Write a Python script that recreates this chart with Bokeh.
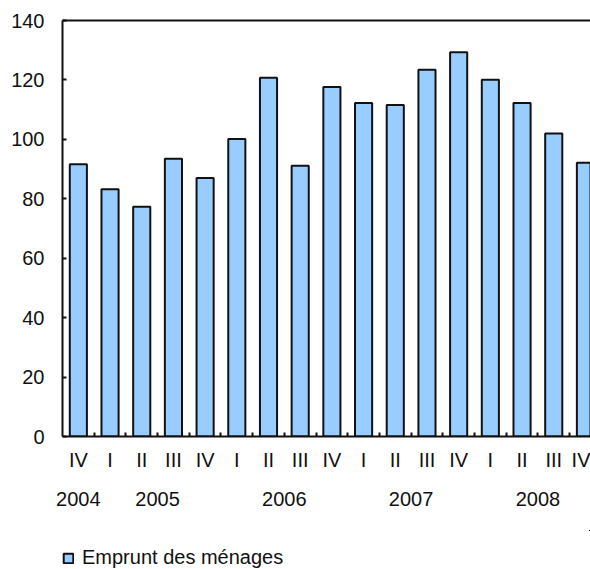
from bokeh.plotting import figure
from bokeh.layouts import column
from bokeh.models import (ColumnDataSource, FixedTicker, LinearAxis, Range1d,
                          Legend, LegendItem)
from bokeh.embed import file_html
from bokeh.resources import INLINE

quarters = ["IV", "I", "II", "III", "IV", "I", "II", "III", "IV",
            "I", "II", "III", "IV", "I", "II", "III", "IV"]
years = [2004, 2005, 2005, 2005, 2005, 2006, 2006, 2006, 2006,
         2007, 2007, 2007, 2007, 2008, 2008, 2008, 2008]
values = [91.6, 83.2, 77.3, 93.5, 87.0, 100.1, 120.7, 91.1, 117.6,
          112.2, 111.6, 123.4, 129.3, 120.1, 112.2, 102.0, 92.1]
y_ticks = [0, 20, 40, 60, 80, 100, 120, 140]
series_name = "Emprunt des ménages"

FONT = "Liberation Sans"
FS = "20px"
TXT = "#111111"
BAR_FILL = "#99CCFF"
LINE = "#111111"

idx = list(range(len(values)))
src = ColumnDataSource(dict(x=idx, top=values, q=quarters))

p = figure(width=590, height=530, output_backend="svg", toolbar_location=None,
           x_range=Range1d(-0.5, 16.16), y_range=Range1d(0, 140),
           x_axis_type=None, y_axis_type=None,
           min_border_left=62, min_border_right=0, min_border_top=20,
           min_border_bottom=94)
p.grid.visible = False
p.outline_line_color = None
p.background_fill_color = "white"
p.border_fill_color = "white"

r = p.vbar(x="x", top="top", width=0.54, bottom=0, source=src,
           fill_color=BAR_FILL, line_color=LINE, line_width=2)

# y axis
yax = LinearAxis(ticker=FixedTicker(ticks=y_ticks))
yax.axis_line_width = 2
yax.axis_line_color = LINE
yax.major_tick_in = 4
yax.major_tick_out = 0
yax.major_tick_line_width = 2
yax.major_tick_line_color = LINE
yax.minor_tick_line_color = None
yax.major_label_standoff = 18
yax.major_label_text_font = FONT
yax.major_label_text_font_size = FS
yax.major_label_text_color = TXT
p.add_layout(yax, "left")

# top line
tax = LinearAxis(ticker=FixedTicker(ticks=[]))
tax.axis_line_width = 2
tax.axis_line_color = LINE
tax.major_tick_line_color = None
tax.minor_tick_line_color = None
tax.major_label_text_font_size = "0px"
p.add_layout(tax, "above")

# quarter axis
xax = LinearAxis(ticker=FixedTicker(ticks=idx, minor_ticks=[i + 0.5 for i in idx]))
xax.major_label_overrides = {i: q for i, q in zip(idx, quarters)}
xax.axis_line_width = 2
xax.axis_line_color = LINE
xax.major_tick_line_color = None
xax.major_tick_in = 0
xax.major_tick_out = 0
xax.minor_tick_in = 4
xax.minor_tick_out = 0
xax.minor_tick_line_width = 2
xax.minor_tick_line_color = LINE
xax.major_label_standoff = 12
xax.major_label_text_font = FONT
xax.major_label_text_font_size = FS
xax.major_label_text_color = TXT
p.add_layout(xax, "below")

# year axis
uniq_years = sorted(set(years))
year_pos = []
for yr in uniq_years:
    ii = [i for i, y in enumerate(years) if y == yr]
    year_pos.append(sum(ii) / len(ii))
yrax = LinearAxis(ticker=FixedTicker(ticks=year_pos))
yrax.major_label_overrides = {pos: str(yr) for pos, yr in zip(year_pos, uniq_years)}
yrax.axis_line_color = None
yrax.major_tick_line_color = None
yrax.minor_tick_line_color = None
yrax.major_tick_in = 0
yrax.major_tick_out = 0
yrax.major_label_standoff = 18
yrax.major_label_text_font = FONT
yrax.major_label_text_font_size = FS
yrax.major_label_text_color = TXT
p.add_layout(yrax, "below")

# legend strip (frame aligned with main chart by the column layout);
# its key renderer shares the series data but lies outside its visible range
lg = figure(width=590, height=39, output_backend="svg", toolbar_location=None,
            x_range=Range1d(-3, -2), y_range=Range1d(-3, -2),
            x_axis_type=None, y_axis_type=None,
            min_border_left=0, min_border_right=0, min_border_top=0,
            min_border_bottom=0)
lg.grid.visible = False
lg.outline_line_color = None
lg.background_fill_color = "white"
lg.border_fill_color = "white"
rk = lg.vbar(x="x", top="top", width=0.54, bottom=0, source=src,
             fill_color=BAR_FILL, line_color=LINE, line_width=2)
legend = Legend(items=[LegendItem(label=series_name, renderers=[rk])],
                location=(0, 0), orientation="horizontal",
                margin=0, padding=0, spacing=0,
                glyph_width=12, glyph_height=12, label_standoff=8,
                label_text_font=FONT, label_text_font_size=FS,
                label_text_color=TXT, border_line_color=None,
                background_fill_alpha=0)
lg.add_layout(legend, "center")

layout = column(p, lg, spacing=0)
open("out.html", "w").write(file_html(layout, INLINE))
